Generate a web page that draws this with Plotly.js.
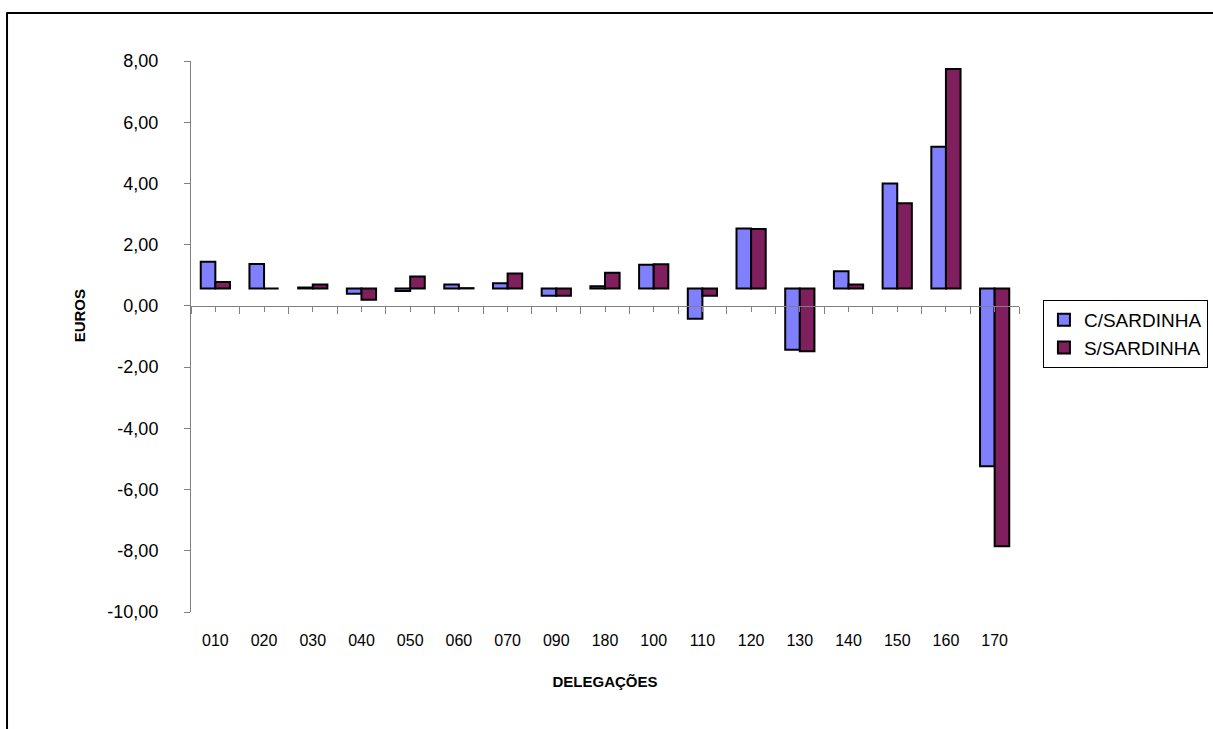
<!DOCTYPE html>
<html>
<head>
<meta charset="utf-8">
<script src="https://cdn.plot.ly/plotly-3.0.1.min.js"></script>
<style>html,body{margin:0;padding:0;background:#fff;}#chart{width:1213px;height:729px;}</style>
</head>
<body>
<div id="chart"></div>
<script>
// Categories (delegações)
const categories = ["010","020","030","040","050","060","070","090","180","100","110","120","130","140","150","160","170"];
// Bar end values (euros)
const cSardinha = [1.44, 1.37, 0.60, 0.40, 0.49, 0.70, 0.74, 0.33, 0.64, 1.34, -0.42, 2.53, -1.43, 1.13, 4.00, 5.20, -5.24];
const sSardinha = [0.78, 0.57, 0.70, 0.20, 0.96, 0.58, 1.06, 0.33, 1.08, 1.36, 0.33, 2.51, -1.48, 0.70, 3.35, 7.74, -7.85];
const seriesNames = ["C/SARDINHA", "S/SARDINHA"];
const yTicks = [-10, -8, -6, -4, -2, 0, 2, 4, 6, 8];
const yTickText = yTicks.map(v => v.toFixed(2).replace(".", ","));

// Bars in the original grow from a common floor slightly above zero
const BAR_FLOOR = 0.57;
const idx = categories.map((c, i) => i);
const FONT = "Liberation Sans, Arial, sans-serif";

function barTrace(vals, name, color, group) {
  return {
    type: "bar",
    x: idx,
    y: vals.map(v => v - BAR_FLOOR),
    base: BAR_FLOOR,
    name: name,
    legendgroup: group,
    marker: {color: color, line: {color: "#000000", width: 2}},
    hoverinfo: "skip"
  };
}

const data = [
  barTrace(cSardinha, seriesNames[0], "#8080FF", "a"),
  barTrace(sSardinha, seriesNames[1], "#801F5E", "b"),
  // empty helper so the zero-crossing category axis (x2) is drawn
  {type: "scatter", mode: "markers", x: [], y: [], xaxis: "x2", yaxis: "y", showlegend: false, hoverinfo: "skip"}
];

const boundaries = [];
for (let i = 0; i <= categories.length; i++) boundaries.push(i - 0.5);

const layout = {
  width: 1213, height: 729,
  margin: {l: 191, r: 194, t: 61, b: 117, pad: 0},
  paper_bgcolor: "#ffffff", plot_bgcolor: "#ffffff",
  font: {family: FONT, color: "#000000"},
  barmode: "group",
  bargap: 0.4,
  bargroupgap: 0,
  showlegend: true,
  legend: {
    xref: "container", yref: "container",
    x: 0.8598, y: 0.5885, xanchor: "left", yanchor: "top",
    bgcolor: "#ffffff", bordercolor: "#000000", borderwidth: 1,
    font: {family: FONT, size: 19, color: "#000000"},
    traceorder: "grouped", tracegroupgap: 0,
    itemclick: false, itemdoubleclick: false
  },
  xaxis: {
    range: [-0.5, categories.length - 0.5],
    tickmode: "array", tickvals: idx, ticktext: categories,
    ticks: "", showline: false, showgrid: false, zeroline: false,
    tickfont: {family: FONT, size: 16, color: "#000000"},
    ticklabelstandoff: 17,
    title: {text: "<b>DELEGAÇÕES</b>", font: {family: FONT, size: 15, color: "#000000"}, standoff: 28},
    fixedrange: true
  },
  xaxis2: {
    overlaying: "x", anchor: "free", position: 10 / 18, side: "bottom",
    range: [-0.5, categories.length - 0.5],
    tickmode: "array", tickvals: boundaries, showticklabels: false,
    ticks: "outside", ticklen: 7, tickwidth: 1, tickcolor: "#808080",
    showline: true, linecolor: "#808080", linewidth: 1,
    minor: {tickmode: "array", tickvals: idx, ticks: "outside", ticklen: 5, tickwidth: 1, tickcolor: "#808080"},
    showgrid: false, zeroline: false, fixedrange: true
  },
  yaxis: {
    range: [-10, 8],
    tickmode: "array", tickvals: yTicks, ticktext: yTickText,
    ticks: "outside", ticklen: 6, tickwidth: 1, tickcolor: "#808080",
    showline: true, linecolor: "#808080", linewidth: 1,
    showgrid: false, zeroline: false,
    tickfont: {family: FONT, size: 18, color: "#000000"},
    ticklabelstandoff: 22,
    title: {text: "&nbsp;&nbsp;&nbsp;&nbsp;&nbsp;&nbsp;&nbsp;&nbsp;&nbsp;&nbsp;<b>EUROS</b>", font: {family: FONT, size: 15, color: "#000000"}, standoff: 18},
    fixedrange: true
  },
  shapes: [
    {type: "line", xref: "paper", yref: "paper", x0: -0.2228, x1: 1.3, y0: 1.087, y1: 1.087, line: {color: "#000000", width: 2}},
    {type: "line", xref: "paper", yref: "paper", x0: -0.2222, x1: -0.2222, y0: 1.088, y1: -0.3, line: {color: "#000000", width: 2}}
  ]
};

Plotly.newPlot("chart", data, layout, {displayModeBar: false, staticPlot: true});
</script>
</body>
</html>
